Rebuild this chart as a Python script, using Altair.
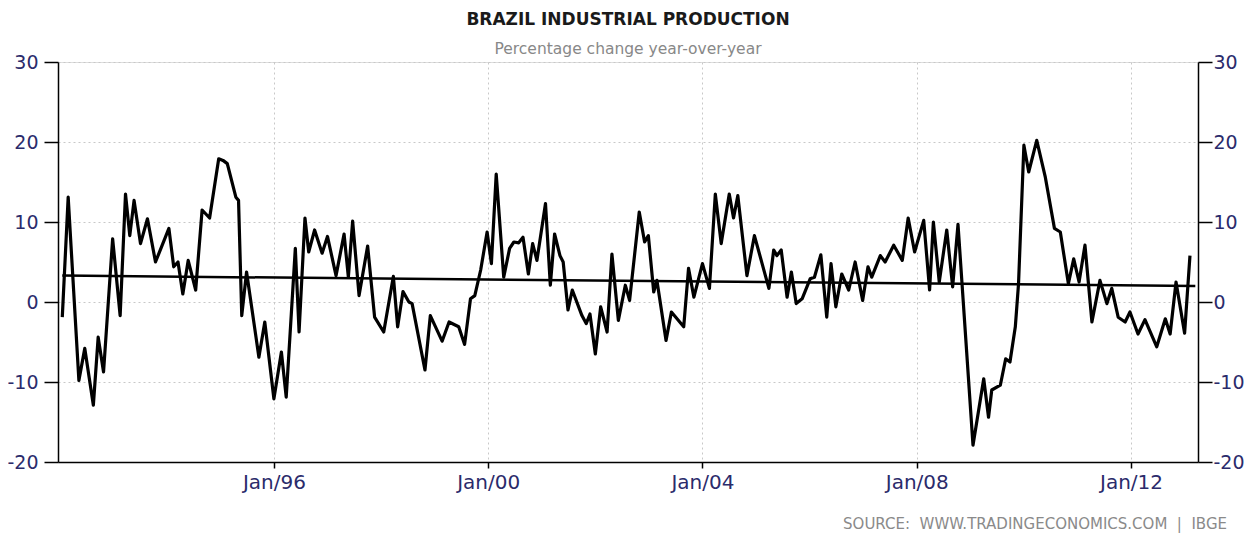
import altair as alt
import pandas as pd

# Brazil industrial production, % change y/y (vertices)
years = [
    1992.05, 1992.16, 1992.36, 1992.47, 1992.63, 1992.72, 1992.82, 1992.99, 1993.13, 1993.23,
    1993.31, 1993.39, 1993.51, 1993.64, 1993.79, 1994.04, 1994.13, 1994.21, 1994.30, 1994.40,
    1994.54, 1994.66, 1994.80, 1994.97, 1995.05, 1995.13, 1995.29, 1995.34, 1995.40, 1995.49,
    1995.72, 1995.83, 1996.00, 1996.14, 1996.23, 1996.40, 1996.47, 1996.58, 1996.65, 1996.76,
    1996.90, 1997.00, 1997.16, 1997.31, 1997.39, 1997.47, 1997.59, 1997.75, 1997.88, 1998.05,
    1998.23, 1998.31, 1998.41, 1998.52, 1998.58, 1998.82, 1998.92,
    1999.14, 1999.27, 1999.45, 1999.56, 1999.67, 1999.75, 1999.86, 1999.98, 2000.06, 2000.15,
    2000.29, 2000.40, 2000.48, 2000.57, 2000.65, 2000.75, 2000.83, 2000.91, 2001.07, 2001.16,
    2001.24, 2001.34, 2001.40, 2001.49, 2001.57, 2001.75, 2001.83, 2001.90, 2002.00, 2002.10,
    2002.22, 2002.31, 2002.43, 2002.56, 2002.64,
    2002.82, 2002.92, 2002.99, 2003.09, 2003.15, 2003.32, 2003.42, 2003.65, 2003.74, 2003.84,
    2004.00, 2004.13, 2004.24, 2004.35, 2004.50, 2004.58, 2004.66, 2004.83, 2004.97, 2005.24,
    2005.33, 2005.39, 2005.47, 2005.58, 2005.66, 2005.75, 2005.86, 2006.01, 2006.09, 2006.21,
    2006.32, 2006.40, 2006.49, 2006.60, 2006.73, 2006.85, 2006.99, 2007.09, 2007.16, 2007.32,
    2007.41, 2007.57, 2007.73, 2007.84, 2007.96, 2008.13, 2008.24, 2008.31, 2008.42, 2008.56,
    2008.67, 2008.77, 2009.05, 2009.25, 2009.34, 2009.40, 2009.56, 2009.66, 2009.74,
    2009.84, 2009.90, 2010.00, 2010.09, 2010.24, 2010.40, 2010.57, 2010.68, 2010.83, 2010.93,
    2011.03, 2011.14, 2011.27, 2011.42, 2011.55, 2011.64, 2011.76, 2011.89, 2011.98, 2012.13,
    2012.26, 2012.48, 2012.64, 2012.73, 2012.84, 2013.00, 2013.10,
]
values = [
    -1.9, 13.1, -9.8, -5.8, -12.9, -4.4, -8.75, 7.9, -1.7, 13.5,
    8.3, 12.7, 7.3, 10.4, 5.0, 9.2, 4.4, 5.0, 1.0, 5.2,
    1.5, 11.5, 10.5, 17.9, 17.7, 17.3, 13.1, 12.7, -1.7, 3.75,
    -6.9, -2.5, -12.1, -6.25, -11.9, 6.7, -3.75, 10.5, 6.25, 9.0,
    6.1, 8.2, 3.3, 8.5, 3.1, 10.1, 0.8, 7.0, -1.9, -3.75,
    3.2, -3.1, 1.3, 0.0, -0.2, -8.5, -1.7,
    -4.9, -2.5, -3.1, -5.3, 0.4, 0.8, 4.0, 8.75, 4.8, 16.0,
    3.1, 6.7, 7.5, 7.4, 8.1, 3.5, 7.3, 5.2, 12.3, 2.1,
    8.5, 5.8, 5.0, -1.0, 1.5, -1.7, -2.7, -1.5, -6.5, -0.6,
    -3.75, 6.0, -2.3, 2.1, 0.2,
    11.25, 7.5, 8.3, 1.25, 2.7, -4.8, -1.25, -3.1, 4.2, 0.6,
    4.8, 1.7, 13.5, 7.3, 13.5, 10.5, 13.3, 3.3, 8.3, 1.7,
    6.5, 5.8, 6.5, 0.6, 3.75, -0.2, 0.4, 2.9, 3.1, 5.9,
    -1.9, 4.8, -0.6, 3.5, 1.5, 5.0, 0.2, 4.4, 3.1, 5.8,
    5.0, 7.1, 5.2, 10.5, 6.25, 10.2, 1.5, 10.0, 2.5, 9.0,
    1.9, 9.7, -17.9, -9.6, -14.4, -11.0, -10.4, -7.1, -7.5,
    -3.1, 2.3, 19.6, 16.25, 20.2, 15.6, 9.2, 8.75, 2.3, 5.4,
    2.5, 7.1, -2.5, 2.7, -0.2, 1.7, -1.9, -2.5, -1.25, -4.0,
    -2.2, -5.6, -2.1, -4.0, 2.5, -3.9, 5.8,
]

trend_years = [1992.05, 2013.2]
trend_values = [3.3, 2.0]

x_ticks = [1996, 2000, 2004, 2008, 2012]
y_ticks = [-20, -10, 0, 10, 20, 30]
x_domain = [1991.97, 2013.25]
y_domain = [-20, 30]

title_text = "BRAZIL INDUSTRIAL PRODUCTION"
subtitle_text = "Percentage change year-over-year"
source_text = "SOURCE:\u00a0 WWW.TRADINGECONOMICS.COM\u00a0 |\u00a0 IBGE"

df = pd.DataFrame({"year": years, "value": values})
trend_df = pd.DataFrame({"year": trend_years, "value": trend_values})
src_df = pd.DataFrame({"t": [source_text]})

FONT = "DejaVu Sans"
LABEL_COLOR = "#2b2b6b"

x_scale = alt.Scale(domain=x_domain, nice=False, zero=False)
y_scale = alt.Scale(domain=y_domain, nice=False, zero=False)

x_axis = alt.Axis(
    values=x_ticks,
    labelExpr="'Jan/' + substring(toString(datum.value), 2, 4)",
    title=None,
    grid=True,
    gridColor="#c8c8c8",
    gridDash=[2, 3],
    gridWidth=1,
    domainColor="#000000",
    domainWidth=1.5,
    tickColor="#000000",
    tickSize=6,
    tickWidth=1.5,
    labelFont=FONT,
    labelFontSize=20,
    labelColor=LABEL_COLOR,
    labelPadding=4,
)

left_axis = alt.Axis(
    values=y_ticks,
    labelExpr="toString(datum.value)",
    title=None,
    orient="left",
    grid=True,
    gridColor="#c8c8c8",
    gridDash=[2, 3],
    gridWidth=1,
    domainColor="#000000",
    domainWidth=1.5,
    tickColor="#000000",
    tickSize=14,
    tickWidth=1.5,
    labelFont=FONT,
    labelFontSize=19,
    labelColor=LABEL_COLOR,
    labelPadding=6,
)

right_axis = alt.Axis(
    values=y_ticks,
    labelExpr="toString(datum.value)",
    title=None,
    orient="right",
    grid=False,
    domainColor="#000000",
    domainWidth=1.5,
    tickColor="#000000",
    tickSize=14,
    tickWidth=1.5,
    labelFont=FONT,
    labelFontSize=19,
    labelColor=LABEL_COLOR,
    labelPadding=1,
)

line = alt.Chart(df).mark_line(color="#000000", strokeWidth=3.2, strokeJoin="round").encode(
    x=alt.X("year:Q", scale=x_scale, axis=x_axis),
    y=alt.Y("value:Q", scale=y_scale, axis=left_axis),
)

trend = alt.Chart(trend_df).mark_line(color="#000000", strokeWidth=2.5).encode(
    x=alt.X("year:Q", scale=x_scale),
    y=alt.Y("value:Q", scale=y_scale, axis=right_axis),
)

source = alt.Chart(src_df).mark_text(
    align="right", baseline="alphabetic", font=FONT, fontSize=15, color="#8a8a8a"
).encode(
    x=alt.value(1169),
    y=alt.value(467),
    text="t:N",
)

chart = (
    alt.layer(line, trend, source)
    .resolve_axis(y="independent")
    .properties(
        width=1140,
        height=400,
        autosize=alt.AutoSizeParams(type="none"),
        padding={"left": 50, "top": 54, "right": 47, "bottom": 74},
        title=alt.TitleParams(
            text=title_text,
            subtitle=subtitle_text,
            font=FONT,
            fontSize=17,
            fontWeight="bold",
            color="#1a1a1a",
            subtitleFont=FONT,
            subtitleFontSize=15.5,
            subtitleColor="#888888",
            subtitlePadding=13,
            anchor="middle",
            offset=-5,
        ),
    )
    .configure_view(stroke=None)
    .configure(background="white")
)

chart.save("out.html", embed_options={"renderer": "svg", "actions": False})
